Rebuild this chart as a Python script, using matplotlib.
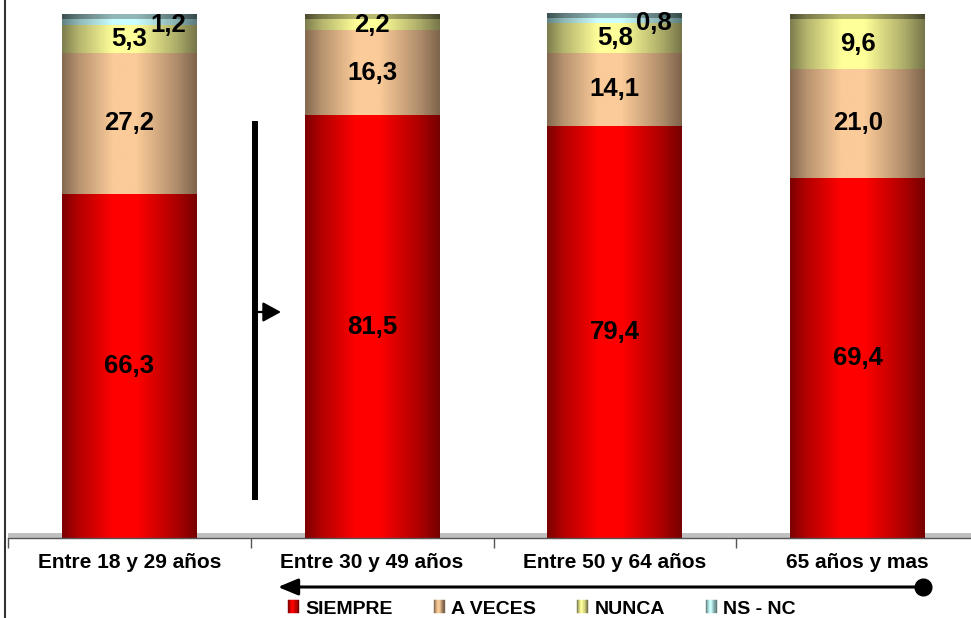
import numpy as np
import matplotlib
matplotlib.use("Agg")
import matplotlib.pyplot as plt
from matplotlib.patches import Patch, Rectangle
from matplotlib.legend_handler import HandlerBase
from matplotlib.lines import Line2D
from matplotlib.colors import to_rgb

plt.rcParams['font.family'] = ['Liberation Sans', 'DejaVu Sans']

# datos: % por grupo de edad
categorias = ['Entre 18 y 29 años', 'Entre 30 y 49 años', 'Entre 50 y 64 años', '65 años y mas']
series = ['SIEMPRE', 'A VECES', 'NUNCA', 'NS - NC']
siempre = [66.3, 81.5, 79.4, 69.4]
a_veces = [27.2, 16.3, 14.1, 21.0]
nunca = [5.3, 2.2, 5.8, 9.6]
ns_nc = [1.2, 0.0, 0.8, 0.0]

# colores (oscuro en el borde, claro en el centro del cilindro)
oscuro = ['#760000', '#7e644c', '#76764a', '#5c7c7c']
claro = ['#ff0000', '#fbcb99', '#ffff99', '#ccffff']

W, H = 971, 618
fig = plt.figure(figsize=(W / 100, H / 100), dpi=100)
px_unit = 5.19
ax = fig.add_axes([8 / W, (H - 538) / H, 971 / W, 538 / H])


def perfil(n=200):
    t = np.linspace(0, 1, n)
    return np.interp(t, [0, 0.12, 0.38, 0.55, 0.85, 1], [0.05, 0.45, 1, 1, 0.4, 0.0])


def gradiente(dark, bright, f):
    d = np.array(to_rgb(dark))
    b = np.array(to_rgb(bright))
    return d[None, :] + (b - d)[None, :] * f[:, None]


def rellenar(patch, dark, bright, z=2):
    x0, y0 = patch.get_x(), patch.get_y()
    w, h = patch.get_width(), patch.get_height()
    if h <= 0:
        return
    img = gradiente(dark, bright, perfil())[None, :, :]
    im = ax.imshow(img, extent=[x0, x0 + w, y0, y0 + h], aspect='auto',
                   interpolation='bilinear', zorder=z)
    im.set_clip_path(patch)


x = np.arange(len(categorias))
ancho = 0.556
datos = [siempre, a_veces, nunca, ns_nc]

# suelo gris
ax.axhspan(0, 1.0, color='#c0c0c0', zorder=1, lw=0)

base = np.zeros(len(categorias))
for i, vals in enumerate(datos):
    vals = np.array(vals)
    barras = ax.bar(x, vals, ancho, bottom=base, color='none', lw=0, zorder=2)
    for j, p in enumerate(barras):
        rellenar(p, oscuro[i], claro[i])
        if vals[j] > 0:
            dx = 0.16 if i == 3 else 0.0
            dy = -0.5 if i == 3 else 0.0
            ax.text(x[j] + dx, base[j] + vals[j] / 2 + dy, f"{vals[j]:.1f}".replace('.', ','),
                    ha='center', va='center', fontsize=18.5, fontweight='bold', zorder=5)
    base = base + vals

# tapa superior del cilindro
for j in range(len(categorias)):
    top = max(i for i in range(len(datos)) if datos[i][j] > 0)
    d = np.array(to_rgb(oscuro[top])) * 0.6
    b = np.array(to_rgb(claro[top])) * 0.72
    tapa = ax.bar(x[j], 1.0, ancho, bottom=base[j], color='none', lw=0, zorder=2)[0]
    rellenar(tapa, d, b, z=3)

ax.set_xlim(-0.5, 3.5)
ax.set_ylim(0, 538 / px_unit)
for s in ['left', 'right', 'top']:
    ax.spines[s].set_visible(False)
ax.spines['bottom'].set_color('#555555')
ax.spines['bottom'].set_linewidth(1.0)
ax.set_yticks([])
ax.set_xticks(x)
ax.set_xticklabels(categorias, fontsize=15, fontweight='bold')
ax.tick_params(axis='x', which='major', length=0, pad=11)
ax.set_xticks(np.arange(-0.5, 4.0, 1.0), minor=True)
ax.tick_params(axis='x', which='minor', length=7, width=1, color='#555555')


class HandlerGradiente(HandlerBase):
    def __init__(self, dark, bright):
        super().__init__()
        self.dark, self.bright = dark, bright

    def create_artists(self, legend, orig_handle, xdescent, ydescent,
                       width, height, fontsize, trans):
        n = 10
        f = perfil(n)
        cols = gradiente(self.dark, self.bright, f)
        arts = []
        for k in range(n):
            r = Rectangle((-xdescent + k * width / n, -ydescent), width / n, height,
                          facecolor=cols[k], edgecolor=cols[k], lw=0.3, transform=trans)
            arts.append(r)
        return arts


handles = [Patch(label=s) for s in series]
hmap = {h: HandlerGradiente(oscuro[i], claro[i]) for i, h in enumerate(handles)}
fig.legend(handles=handles, handler_map=hmap, loc='center',
           bbox_to_anchor=(542 / W, 1 - 609 / H), ncol=4, frameon=False,
           prop={'weight': 'bold', 'size': 14}, handlelength=0.55, handleheight=0.65,
           handletextpad=0.35, columnspacing=2.1, borderpad=0)

# borde izquierdo
fig.add_artist(Line2D([4.5 / W, 4.5 / W], [0, 1], color='#333333', lw=1.5,
                      transform=fig.transFigure))

# flecha horizontal con punto
ax.annotate('', xy=(278, H - 587), xytext=(923, H - 587), xycoords='figure pixels',
            textcoords='figure pixels',
            arrowprops=dict(arrowstyle='-|>,head_length=0.6,head_width=0.25',
                            mutation_scale=20, lw=2.2, color='black',
                            shrinkA=0, shrinkB=0))
fig.add_artist(Line2D([923 / W], [1 - 587 / H], marker='o', markersize=12,
                      color='black', transform=fig.transFigure))

# linea vertical con flecha
fig.add_artist(Line2D([255 / W, 255 / W], [1 - 121 / H, 1 - 500 / H], color='black',
                      lw=4.3, solid_capstyle='butt', transform=fig.transFigure))
ax.annotate('', xy=(281, H - 312), xytext=(257, H - 312), xycoords='figure pixels',
            textcoords='figure pixels',
            arrowprops=dict(arrowstyle='-|>,head_length=0.55,head_width=0.3',
                            mutation_scale=20, lw=1.6, color='black',
                            shrinkA=0, shrinkB=0))

fig.savefig('out.png', dpi=100)
